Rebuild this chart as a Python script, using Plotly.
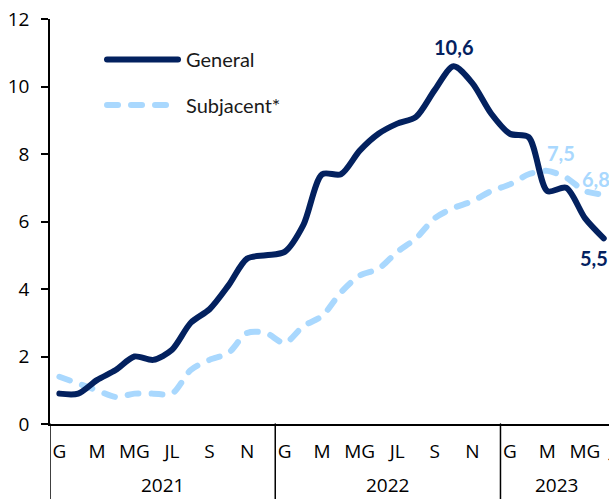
import plotly.graph_objects as go

# ---- data ----
month_labels = ["G", "", "M", "", "MG", "", "JL", "", "S", "", "N", ""]
years = ["2021", "2022", "2023"]
months_per_year = [12, 12, 6]
last_month_label = "JN"

general = [0.9, 0.9, 1.3, 1.6, 2.0, 1.9, 2.2, 3.0, 3.4, 4.1, 4.9, 5.0,
           5.1, 5.9, 7.4, 7.4, 8.1, 8.6, 8.9, 9.1, 9.9, 10.6, 10.1, 9.2,
           8.6, 8.5, 6.9, 7.0, 6.1, 5.5]
subjacent = [1.4, 1.2, 1.0, 0.8, 0.9, 0.9, 0.9, 1.6, 1.9, 2.1, 2.7, 2.7,
             2.4, 2.9, 3.2, 3.9, 4.4, 4.6, 5.1, 5.5, 6.1, 6.4, 6.6, 6.9,
             7.1, 7.4, 7.5, 7.3, 6.9, 6.8]
series_names = ["General", "Subjacent*"]

# labelled points: (series, index)
general_labels = [21, 29]
subjacent_labels = [26, 29]

NAVY = "#03215F"
LIGHT = "#A9D8FE"
TICK_FONT = dict(family="Open Sans", size=19, color="#000000")
LAB_FONT = "Lato"

n = len(general)
x = list(range(n))

fig = go.Figure()
fig.add_trace(go.Scatter(x=x, y=subjacent, mode="lines", name=series_names[1],
                         line=dict(color=LIGHT, width=6, dash="11px,13px",
                                   shape="spline", smoothing=0.8),
                         hoverinfo="skip", showlegend=False))
fig.add_trace(go.Scatter(x=x, y=general, mode="lines", name=series_names[0],
                         line=dict(color=NAVY, width=6, shape="spline", smoothing=0.8),
                         hoverinfo="skip", showlegend=False))

def fmt(v):
    return f"{v:.1f}".replace(".", ",")

annotations = []
# data labels
shifts_g = {21: (0, 19), 29: (-10, -20)}
shifts_s = {26: (14, 18), 29: (-8, 16)}
for i in general_labels:
    dx, dy = shifts_g[i]
    annotations.append(dict(x=i, y=general[i], xref="x", yref="y", text=f"<b>{fmt(general[i])}</b>",
                            showarrow=False, xanchor="center", yanchor="middle",
                            xshift=dx, yshift=dy,
                            font=dict(family=LAB_FONT, size=20, color=NAVY)))
for i in subjacent_labels:
    dx, dy = shifts_s[i]
    annotations.append(dict(x=i, y=subjacent[i], xref="x", yref="y", text=f"<b>{fmt(subjacent[i])}</b>",
                            showarrow=False, xanchor="center", yanchor="middle",
                            xshift=dx, yshift=dy,
                            font=dict(family=LAB_FONT, size=20, color=LIGHT)))

# year labels and separators
shapes = []
start = 0
for yr, cnt in zip(years, months_per_year):
    center = start + (cnt - 1) / 2
    annotations.append(dict(x=center, y=0, xref="x", yref="paper", text=yr, showarrow=False,
                            xanchor="center", yanchor="middle", yshift=-61, font=TICK_FONT))
    shapes.append(dict(type="line", xref="x", yref="paper", x0=start - 0.5, x1=start - 0.5,
                       y0=0, y1=-0.2, line=dict(color="#000000", width=1.5)))
    start += cnt

# last (partially visible) month label
annotations.append(dict(x=n - 1, y=0, xref="x", yref="paper", text=last_month_label, showarrow=False,
                        xanchor="left", yanchor="middle", xshift=2, yshift=-26, font=TICK_FONT))

# manual legend
leg_y = [0.9, 0.7877]
shapes.append(dict(type="line", xref="paper", yref="paper", x0=0.102, x1=0.229, y0=leg_y[0], y1=leg_y[0],
                   line=dict(color=NAVY, width=6)))
shapes.append(dict(type="line", xref="paper", yref="paper", x0=0.102, x1=0.218, y0=leg_y[1], y1=leg_y[1],
                   line=dict(color=LIGHT, width=6, dash="11px,13px")))
for name, ly in zip(series_names, leg_y):
    annotations.append(dict(x=0.2397, y=ly, xref="paper", yref="paper", text=name, showarrow=False,
                            xanchor="left", yanchor="middle",
                            font=dict(family=LAB_FONT, size=20, color="#1a1a1a")))

tickvals = []
ticktext = []
for k in range(n - 1):
    lab = month_labels[k % 12]
    if lab:
        tickvals.append(k)
        ticktext.append(lab)

fig.update_layout(
    width=609, height=499,
    margin=dict(l=50, r=0, t=19, b=75),
    plot_bgcolor="white", paper_bgcolor="white",
    annotations=annotations, shapes=shapes,
    showlegend=False,
    xaxis=dict(range=[-0.5, -0.5 + 559 / 18.77], tickmode="array", tickvals=tickvals, ticktext=ticktext,
               showgrid=False, zeroline=False, showline=True, linecolor="#000000", linewidth=1.5,
               ticks="", tickfont=TICK_FONT, ticklabelstandoff=9, fixedrange=True),
    yaxis=dict(range=[0, 12], dtick=2, tick0=0, showgrid=False, zeroline=False, showline=True,
               linecolor="#000000", linewidth=1.5, ticks="outside", ticklen=7, tickwidth=1.5,
               tickcolor="#000000", tickfont=TICK_FONT, ticklabelstandoff=8, fixedrange=True),
)

post = """
document.body.style.margin='0';
document.body.style.overflow='hidden';
document.querySelectorAll('path.js-line, .shapelayer path').forEach(function(p){p.style.strokeLinecap='round';});
"""
fig.write_html("out.html", post_script=post, config={"displayModeBar": False})
